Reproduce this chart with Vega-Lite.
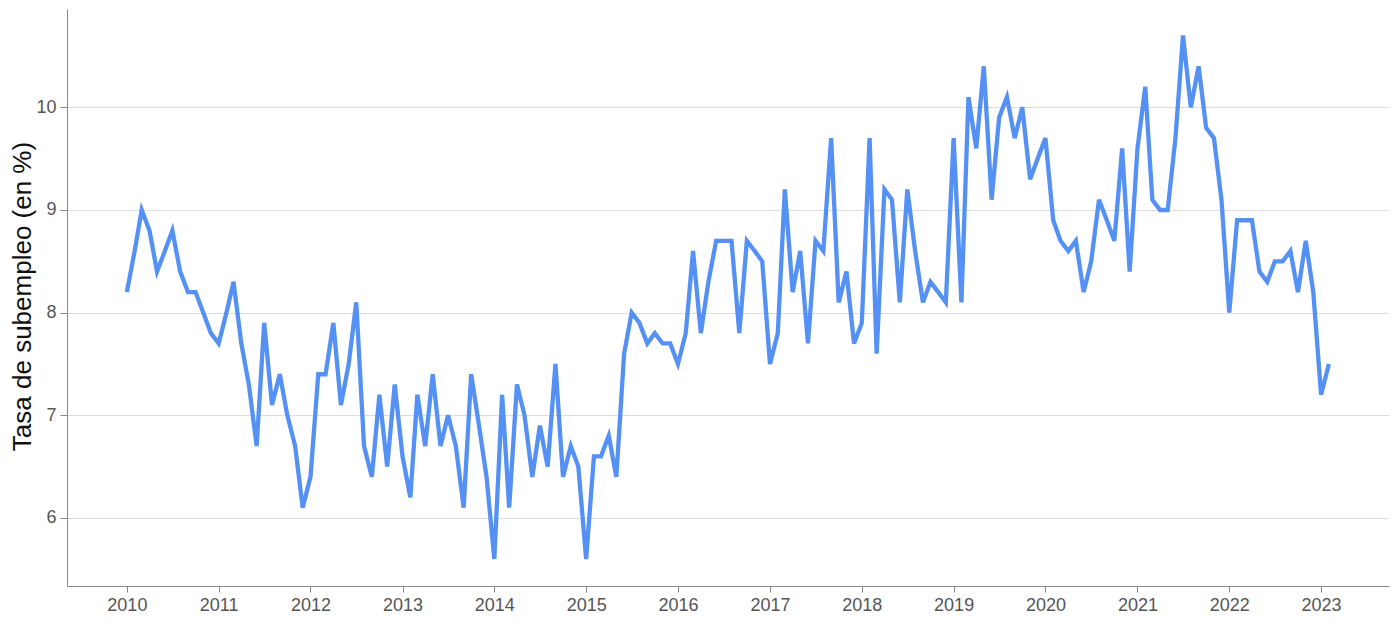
{
  "$schema": "https://vega.github.io/schema/vega-lite/v6.json",
  "width": 1322,
  "height": 577,
  "autosize": {"type": "none"},
  "padding": {"left": 67, "top": 9, "right": 10, "bottom": 36},
  "background": "white",
  "config": {
    "font": "Liberation Sans",
    "view": {"stroke": null}
  },
  "data": {
    "values": [
      {"fecha": "2010-01-01", "tasa": 8.2}, {"fecha": "2010-02-01", "tasa": 8.6}, {"fecha": "2010-03-01", "tasa": 9.0}, {"fecha": "2010-04-01", "tasa": 8.8},
      {"fecha": "2010-05-01", "tasa": 8.4}, {"fecha": "2010-06-01", "tasa": 8.6}, {"fecha": "2010-07-01", "tasa": 8.8}, {"fecha": "2010-08-01", "tasa": 8.4},
      {"fecha": "2010-09-01", "tasa": 8.2}, {"fecha": "2010-10-01", "tasa": 8.2}, {"fecha": "2010-11-01", "tasa": 8.0}, {"fecha": "2010-12-01", "tasa": 7.8},
      {"fecha": "2011-01-01", "tasa": 7.7}, {"fecha": "2011-02-01", "tasa": 8.0}, {"fecha": "2011-03-01", "tasa": 8.3}, {"fecha": "2011-04-01", "tasa": 7.7},
      {"fecha": "2011-05-01", "tasa": 7.3}, {"fecha": "2011-06-01", "tasa": 6.7}, {"fecha": "2011-07-01", "tasa": 7.9}, {"fecha": "2011-08-01", "tasa": 7.1},
      {"fecha": "2011-09-01", "tasa": 7.4}, {"fecha": "2011-10-01", "tasa": 7.0}, {"fecha": "2011-11-01", "tasa": 6.7}, {"fecha": "2011-12-01", "tasa": 6.1},
      {"fecha": "2012-01-01", "tasa": 6.4}, {"fecha": "2012-02-01", "tasa": 7.4}, {"fecha": "2012-03-01", "tasa": 7.4}, {"fecha": "2012-04-01", "tasa": 7.9},
      {"fecha": "2012-05-01", "tasa": 7.1}, {"fecha": "2012-06-01", "tasa": 7.5}, {"fecha": "2012-07-01", "tasa": 8.1}, {"fecha": "2012-08-01", "tasa": 6.7},
      {"fecha": "2012-09-01", "tasa": 6.4}, {"fecha": "2012-10-01", "tasa": 7.2}, {"fecha": "2012-11-01", "tasa": 6.5}, {"fecha": "2012-12-01", "tasa": 7.3},
      {"fecha": "2013-01-01", "tasa": 6.6}, {"fecha": "2013-02-01", "tasa": 6.2}, {"fecha": "2013-03-01", "tasa": 7.2}, {"fecha": "2013-04-01", "tasa": 6.7},
      {"fecha": "2013-05-01", "tasa": 7.4}, {"fecha": "2013-06-01", "tasa": 6.7}, {"fecha": "2013-07-01", "tasa": 7.0}, {"fecha": "2013-08-01", "tasa": 6.7},
      {"fecha": "2013-09-01", "tasa": 6.1}, {"fecha": "2013-10-01", "tasa": 7.4}, {"fecha": "2013-11-01", "tasa": 6.9}, {"fecha": "2013-12-01", "tasa": 6.4},
      {"fecha": "2014-01-01", "tasa": 5.6}, {"fecha": "2014-02-01", "tasa": 7.2}, {"fecha": "2014-03-01", "tasa": 6.1}, {"fecha": "2014-04-01", "tasa": 7.3},
      {"fecha": "2014-05-01", "tasa": 7.0}, {"fecha": "2014-06-01", "tasa": 6.4}, {"fecha": "2014-07-01", "tasa": 6.9}, {"fecha": "2014-08-01", "tasa": 6.5},
      {"fecha": "2014-09-01", "tasa": 7.5}, {"fecha": "2014-10-01", "tasa": 6.4}, {"fecha": "2014-11-01", "tasa": 6.7}, {"fecha": "2014-12-01", "tasa": 6.5},
      {"fecha": "2015-01-01", "tasa": 5.6}, {"fecha": "2015-02-01", "tasa": 6.6}, {"fecha": "2015-03-01", "tasa": 6.6}, {"fecha": "2015-04-01", "tasa": 6.8},
      {"fecha": "2015-05-01", "tasa": 6.4}, {"fecha": "2015-06-01", "tasa": 7.6}, {"fecha": "2015-07-01", "tasa": 8.0}, {"fecha": "2015-08-01", "tasa": 7.9},
      {"fecha": "2015-09-01", "tasa": 7.7}, {"fecha": "2015-10-01", "tasa": 7.8}, {"fecha": "2015-11-01", "tasa": 7.7}, {"fecha": "2015-12-01", "tasa": 7.7},
      {"fecha": "2016-01-01", "tasa": 7.5}, {"fecha": "2016-02-01", "tasa": 7.8}, {"fecha": "2016-03-01", "tasa": 8.6}, {"fecha": "2016-04-01", "tasa": 7.8},
      {"fecha": "2016-05-01", "tasa": 8.3}, {"fecha": "2016-06-01", "tasa": 8.7}, {"fecha": "2016-07-01", "tasa": 8.7}, {"fecha": "2016-08-01", "tasa": 8.7},
      {"fecha": "2016-09-01", "tasa": 7.8}, {"fecha": "2016-10-01", "tasa": 8.7}, {"fecha": "2016-11-01", "tasa": 8.6}, {"fecha": "2016-12-01", "tasa": 8.5},
      {"fecha": "2017-01-01", "tasa": 7.5}, {"fecha": "2017-02-01", "tasa": 7.8}, {"fecha": "2017-03-01", "tasa": 9.2}, {"fecha": "2017-04-01", "tasa": 8.2},
      {"fecha": "2017-05-01", "tasa": 8.6}, {"fecha": "2017-06-01", "tasa": 7.7}, {"fecha": "2017-07-01", "tasa": 8.7}, {"fecha": "2017-08-01", "tasa": 8.6},
      {"fecha": "2017-09-01", "tasa": 9.7}, {"fecha": "2017-10-01", "tasa": 8.1}, {"fecha": "2017-11-01", "tasa": 8.4}, {"fecha": "2017-12-01", "tasa": 7.7},
      {"fecha": "2018-01-01", "tasa": 7.9}, {"fecha": "2018-02-01", "tasa": 9.7}, {"fecha": "2018-03-01", "tasa": 7.6}, {"fecha": "2018-04-01", "tasa": 9.2},
      {"fecha": "2018-05-01", "tasa": 9.1}, {"fecha": "2018-06-01", "tasa": 8.1}, {"fecha": "2018-07-01", "tasa": 9.2}, {"fecha": "2018-08-01", "tasa": 8.6},
      {"fecha": "2018-09-01", "tasa": 8.1}, {"fecha": "2018-10-01", "tasa": 8.3}, {"fecha": "2018-11-01", "tasa": 8.2}, {"fecha": "2018-12-01", "tasa": 8.1},
      {"fecha": "2019-01-01", "tasa": 9.7}, {"fecha": "2019-02-01", "tasa": 8.1}, {"fecha": "2019-03-01", "tasa": 10.1}, {"fecha": "2019-04-01", "tasa": 9.6},
      {"fecha": "2019-05-01", "tasa": 10.4}, {"fecha": "2019-06-01", "tasa": 9.1}, {"fecha": "2019-07-01", "tasa": 9.9}, {"fecha": "2019-08-01", "tasa": 10.1},
      {"fecha": "2019-09-01", "tasa": 9.7}, {"fecha": "2019-10-01", "tasa": 10.0}, {"fecha": "2019-11-01", "tasa": 9.3}, {"fecha": "2019-12-01", "tasa": 9.5},
      {"fecha": "2020-01-01", "tasa": 9.7}, {"fecha": "2020-02-01", "tasa": 8.9}, {"fecha": "2020-03-01", "tasa": 8.7}, {"fecha": "2020-04-01", "tasa": 8.6},
      {"fecha": "2020-05-01", "tasa": 8.7}, {"fecha": "2020-06-01", "tasa": 8.2}, {"fecha": "2020-07-01", "tasa": 8.5}, {"fecha": "2020-08-01", "tasa": 9.1},
      {"fecha": "2020-09-01", "tasa": 8.9}, {"fecha": "2020-10-01", "tasa": 8.7}, {"fecha": "2020-11-01", "tasa": 9.6}, {"fecha": "2020-12-01", "tasa": 8.4},
      {"fecha": "2021-01-01", "tasa": 9.6}, {"fecha": "2021-02-01", "tasa": 10.2}, {"fecha": "2021-03-01", "tasa": 9.1}, {"fecha": "2021-04-01", "tasa": 9.0},
      {"fecha": "2021-05-01", "tasa": 9.0}, {"fecha": "2021-06-01", "tasa": 9.7}, {"fecha": "2021-07-01", "tasa": 10.7}, {"fecha": "2021-08-01", "tasa": 10.0},
      {"fecha": "2021-09-01", "tasa": 10.4}, {"fecha": "2021-10-01", "tasa": 9.8}, {"fecha": "2021-11-01", "tasa": 9.7}, {"fecha": "2021-12-01", "tasa": 9.1},
      {"fecha": "2022-01-01", "tasa": 8.0}, {"fecha": "2022-02-01", "tasa": 8.9}, {"fecha": "2022-03-01", "tasa": 8.9}, {"fecha": "2022-04-01", "tasa": 8.9},
      {"fecha": "2022-05-01", "tasa": 8.4}, {"fecha": "2022-06-01", "tasa": 8.3}, {"fecha": "2022-07-01", "tasa": 8.5}, {"fecha": "2022-08-01", "tasa": 8.5},
      {"fecha": "2022-09-01", "tasa": 8.6}, {"fecha": "2022-10-01", "tasa": 8.2}, {"fecha": "2022-11-01", "tasa": 8.7}, {"fecha": "2022-12-01", "tasa": 8.2},
      {"fecha": "2023-01-01", "tasa": 7.2}, {"fecha": "2023-02-01", "tasa": 7.5}
    ]
  },
  "mark": {"type": "line", "color": "#5591f5", "strokeWidth": 4.3, "strokeJoin": "miter", "clip": true},
  "encoding": {
    "x": {
      "field": "fecha",
      "type": "temporal",
      "scale": {
        "type": "utc",
        "domain": [
          {"year": 2009, "month": 5, "date": 8, "utc": true},
          {"year": 2023, "month": 9, "date": 28, "utc": true}
        ]
      },
      "axis": {
        "title": null,
        "format": "%Y",
        "tickCount": {"interval": "year", "step": 1},
        "grid": false,
        "domainColor": "#888888",
        "tickColor": "#888888",
        "tickSize": 6,
        "labelFontSize": 18,
        "labelColor": "#555555",
        "labelPadding": 4,
        "labelFlush": false,
        "labelOverlap": false
      }
    },
    "y": {
      "field": "tasa",
      "type": "quantitative",
      "scale": {"domain": [5.337, 10.958], "nice": false, "zero": false},
      "axis": {
        "title": "Tasa de subempleo (en %)",
        "values": [6, 7, 8, 9, 10],
        "grid": true,
        "gridColor": "#dddddd",
        "gridWidth": 1,
        "domainColor": "#888888",
        "tickColor": "#888888",
        "tickSize": 7,
        "labelFontSize": 18,
        "labelColor": "#555555",
        "labelPadding": 4,
        "titleFontSize": 26,
        "titleFontWeight": "normal",
        "titleColor": "#111111",
        "titleX": -45,
        "titleY": 287,
        "titleAngle": -90,
        "titleAlign": "center",
        "titleBaseline": "middle"
      }
    }
  }
}
